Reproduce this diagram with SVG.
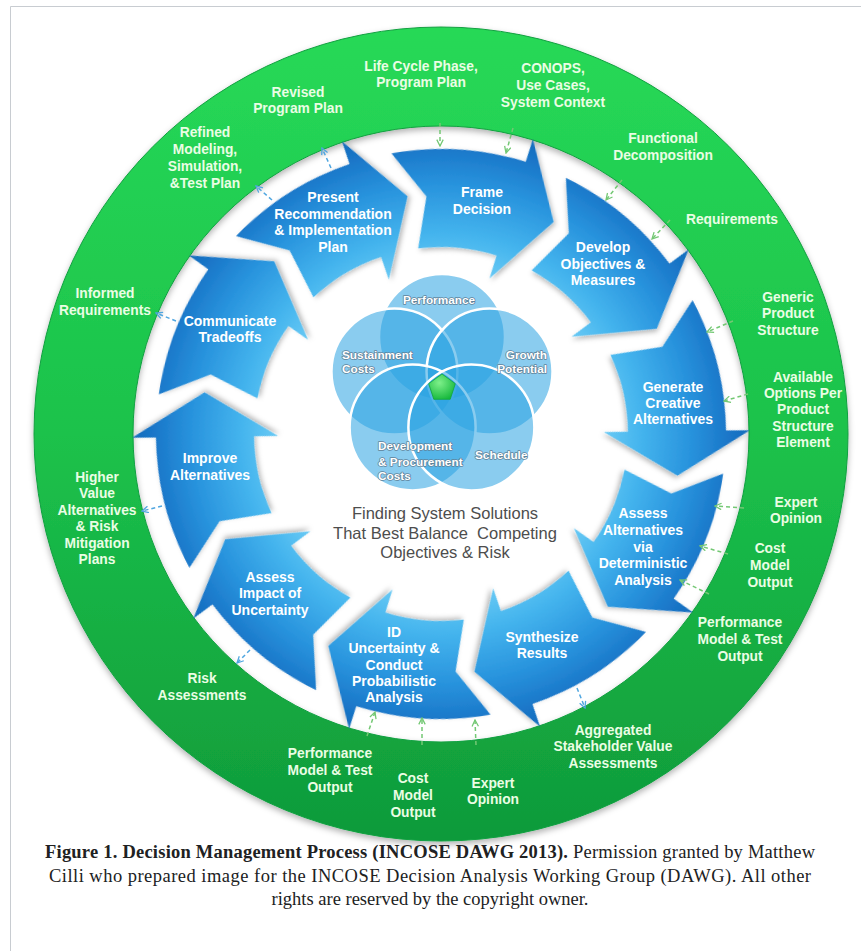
<svg xmlns="http://www.w3.org/2000/svg" width="861" height="951" viewBox="0 0 861 951">
<defs>
<style>
.ring-label{font-family:"Liberation Sans",Arial,sans-serif;font-size:13.8px;font-weight:bold;fill:#eafde4;text-anchor:middle}
.arrow-label{font-family:"Liberation Sans",Arial,sans-serif;font-size:14px;font-weight:bold;fill:#ffffff;text-anchor:middle}
.venn-label{font-family:"Liberation Sans",Arial,sans-serif;font-size:11.8px;font-weight:bold;fill:#ffffff;stroke:#5f8299;stroke-width:1.5px;paint-order:stroke;stroke-linejoin:round}
.center-text{font-family:"Liberation Sans",Arial,sans-serif;font-size:16.5px;fill:#4d4d4d;text-anchor:middle;white-space:pre}
.caption{font-family:"Liberation Serif","Times New Roman",serif;font-size:18.5px;fill:#202122;text-anchor:middle}
.in{fill:none;stroke:#74c874;stroke-width:1.5;stroke-dasharray:4 3;marker-end:url(#mg)}
.out{fill:none;stroke:#4fa6e0;stroke-width:1.5;stroke-dasharray:4 3;marker-end:url(#mb)}
.venn{fill:#2aa3e2;fill-opacity:0.55;stroke:#ffffff;stroke-width:2.5}
.arrow{fill:url(#blue);filter:url(#ash)}
</style>
<linearGradient id="green" gradientUnits="userSpaceOnUse" x1="0" y1="27" x2="0" y2="841">
<stop offset="0" stop-color="#27d957"/>
<stop offset="0.5" stop-color="#1cc24b"/>
<stop offset="1" stop-color="#0f9a3a"/>
</linearGradient>
<radialGradient id="blue" gradientUnits="userSpaceOnUse" cx="441" cy="434" r="320">
<stop offset="0.5" stop-color="#6ccbf5"/>
<stop offset="0.62" stop-color="#45b5ee"/>
<stop offset="0.78" stop-color="#2893dd"/>
<stop offset="0.9" stop-color="#1a76c8"/>
<stop offset="1" stop-color="#1266b5"/>
</radialGradient>
<radialGradient id="pent" cx="0.4" cy="0.35" r="0.7">
<stop offset="0" stop-color="#7ef08a"/>
<stop offset="1" stop-color="#16b83c"/>
</radialGradient>
<filter id="rsh" x="-10%" y="-10%" width="120%" height="125%">
<feDropShadow dx="0" dy="3" stdDeviation="3" flood-color="#000" flood-opacity="0.3"/>
</filter>
<filter id="ash" x="-20%" y="-20%" width="140%" height="140%">
<feDropShadow dx="1.5" dy="2.5" stdDeviation="2.5" flood-color="#000" flood-opacity="0.28"/>
</filter>
<marker id="mg" viewBox="0 0 10 10" refX="9" refY="5" markerWidth="8" markerHeight="8" orient="auto" markerUnits="userSpaceOnUse">
<path d="M1,1 L9,5 L1,9" fill="none" stroke="#74c874" stroke-width="1.6"/>
</marker>
<marker id="mb" viewBox="0 0 10 10" refX="9" refY="5" markerWidth="8" markerHeight="8" orient="auto" markerUnits="userSpaceOnUse">
<path d="M1,1 L9,5 L1,9" fill="none" stroke="#4fa6e0" stroke-width="1.6"/>
</marker>
<path id="arr" d="M431.05,149.17 A285,285 0 0 1 562.80,176.34 L573.05,154.64 L582.07,239.84 L510.66,286.63 L520.92,264.94 A187,187 0 0 0 444.26,247.03 L459.67,196.73 Z"/>
</defs>

<rect x="0" y="0" width="861" height="951" fill="#ffffff"/>
<path d="M10.5,951 V6.5 H861" fill="none" stroke="#c8ccd1" stroke-width="1"/>

<g id="ring">
<path d="M441,27 A407,407 0 1 1 441,841 A407,407 0 1 1 441,27 Z M441,126 A308,308 0 1 0 441,742 A308,308 0 1 0 441,126 Z" fill="url(#green)" fill-rule="evenodd" stroke="#12a040" stroke-width="1" filter="url(#rsh)"/>
</g>

<g id="ring-labels">
<text class="ring-label" x="298" y="97">Revised<tspan x="298" y="113">Program Plan</tspan></text>
<text class="ring-label" x="421" y="71">Life Cycle Phase,<tspan x="421" y="87">Program Plan</tspan></text>
<text class="ring-label" x="553" y="73">CONOPS,<tspan x="553" y="90">Use Cases,</tspan><tspan x="553" y="107">System Context</tspan></text>
<text class="ring-label" x="663" y="143">Functional<tspan x="663" y="160">Decomposition</tspan></text>
<text class="ring-label" x="732" y="224">Requirements</text>
<text class="ring-label" x="788" y="302">Generic<tspan x="788" y="318">Product</tspan><tspan x="788" y="335">Structure</tspan></text>
<text class="ring-label" x="803" y="382">Available<tspan x="803" y="398">Options Per</tspan><tspan x="803" y="414">Product</tspan><tspan x="803" y="431">Structure</tspan><tspan x="803" y="447">Element</tspan></text>
<text class="ring-label" x="796" y="507">Expert<tspan x="796" y="523">Opinion</tspan></text>
<text class="ring-label" x="770" y="553">Cost<tspan x="770" y="570">Model</tspan><tspan x="770" y="587">Output</tspan></text>
<text class="ring-label" x="740" y="627">Performance<tspan x="740" y="644">Model &amp; Test</tspan><tspan x="740" y="661">Output</tspan></text>
<text class="ring-label" x="613" y="735">Aggregated<tspan x="613" y="751">Stakeholder Value</tspan><tspan x="613" y="768">Assessments</tspan></text>
<text class="ring-label" x="493" y="788">Expert<tspan x="493" y="804">Opinion</tspan></text>
<text class="ring-label" x="413" y="783">Cost<tspan x="413" y="800">Model</tspan><tspan x="413" y="817">Output</tspan></text>
<text class="ring-label" x="330" y="758">Performance<tspan x="330" y="775">Model &amp; Test</tspan><tspan x="330" y="792">Output</tspan></text>
<text class="ring-label" x="202" y="683">Risk<tspan x="202" y="700">Assessments</tspan></text>
<text class="ring-label" x="97" y="482">Higher<tspan x="97" y="498">Value</tspan><tspan x="97" y="515">Alternatives</tspan><tspan x="97" y="531">&amp; Risk</tspan><tspan x="97" y="548">Mitigation</tspan><tspan x="97" y="564">Plans</tspan></text>
<text class="ring-label" x="105" y="298">Informed<tspan x="105" y="315">Requirements</tspan></text>
<text class="ring-label" x="205" y="137">Refined<tspan x="205" y="154">Modeling,</tspan><tspan x="205" y="171">Simulation,</tspan><tspan x="205" y="188">&amp;Test Plan</tspan></text>
</g>

<g id="frame-decision">
<use href="#arr" class="arrow" transform="rotate(352 441 434)"/>
<text class="arrow-label" x="482" y="197">Frame<tspan x="482" y="214">Decision</tspan></text>
</g>
<g id="develop-objectives">
<use href="#arr" class="arrow" transform="rotate(28 441 434)"/>
<text class="arrow-label" x="603" y="252">Develop<tspan x="603" y="269">Objectives &amp;</tspan><tspan x="603" y="285">Measures</tspan></text>
</g>
<g id="generate-alternatives">
<use href="#arr" class="arrow" transform="rotate(64 441 434)"/>
<text class="arrow-label" x="673" y="392">Generate<tspan x="673" y="408">Creative</tspan><tspan x="673" y="424">Alternatives</tspan></text>
</g>
<g id="assess-alternatives">
<use href="#arr" class="arrow" transform="rotate(100 441 434)"/>
<text class="arrow-label" x="643" y="518">Assess<tspan x="643" y="535">Alternatives</tspan><tspan x="643" y="552">via</tspan><tspan x="643" y="568">Deterministic</tspan><tspan x="643" y="585">Analysis</tspan></text>
</g>
<g id="synthesize-results">
<use href="#arr" class="arrow" transform="rotate(136 441 434)"/>
<text class="arrow-label" x="542" y="642">Synthesize<tspan x="542" y="658">Results</tspan></text>
</g>
<g id="id-uncertainty">
<use href="#arr" class="arrow" transform="rotate(172 441 434)"/>
<text class="arrow-label" x="394" y="637">ID<tspan x="394" y="653">Uncertainty &amp;</tspan><tspan x="394" y="670">Conduct</tspan><tspan x="394" y="686">Probabilistic</tspan><tspan x="394" y="702">Analysis</tspan></text>
</g>
<g id="assess-impact">
<use href="#arr" class="arrow" transform="rotate(208 441 434)"/>
<text class="arrow-label" x="270" y="582">Assess<tspan x="270" y="598">Impact of</tspan><tspan x="270" y="615">Uncertainty</tspan></text>
</g>
<g id="improve-alternatives">
<use href="#arr" class="arrow" transform="rotate(244 441 434)"/>
<text class="arrow-label" x="210" y="463">Improve<tspan x="210" y="480">Alternatives</tspan></text>
</g>
<g id="communicate-tradeoffs">
<use href="#arr" class="arrow" transform="rotate(280 441 434)"/>
<text class="arrow-label" x="230" y="326">Communicate<tspan x="230" y="342">Tradeoffs</tspan></text>
</g>
<g id="present-recommendation">
<use href="#arr" class="arrow" transform="rotate(316 441 434)"/>
<text class="arrow-label" x="333" y="202">Present<tspan x="333" y="218.7">Recommendation</tspan><tspan x="333" y="235.3">&amp; Implementation</tspan><tspan x="333" y="252">Plan</tspan></text>
</g>

<g id="venn">
<circle class="venn" cx="442" cy="337" r="63"/>
<circle class="venn" cx="394.45" cy="371.55" r="63"/>
<circle class="venn" cx="489.55" cy="371.55" r="63"/>
<circle class="venn" cx="412.61" cy="427.45" r="63"/>
<circle class="venn" cx="471.39" cy="427.45" r="63"/>
<polygon points="442,374 455.3,383.7 450.2,399.3 433.8,399.3 428.7,383.7" fill="url(#pent)" stroke="#14a838" stroke-width="0.8"/>
<text class="venn-label" x="439" y="304" text-anchor="middle">Performance</text>
<text class="venn-label" x="342" y="359">Sustainment<tspan x="342" y="373">Costs</tspan></text>
<text class="venn-label" x="547" y="359" text-anchor="end">Growth<tspan x="547" y="373">Potential</tspan></text>
<text class="venn-label" x="378" y="450">Development<tspan x="378" y="466">&amp; Procurement</tspan><tspan x="378" y="480">Costs</tspan></text>
<text class="venn-label" x="475" y="459">Schedule</text>
</g>

<g id="center-caption">
<text class="center-text" x="445" y="519">Finding System Solutions</text>
<text class="center-text" x="445" y="539">That Best Balance  Competing</text>
<text class="center-text" x="445" y="558">Objectives &amp; Risk</text>
</g>

<g id="connectors">
<line class="in" x1="440" y1="123" x2="440" y2="146"/>
<line class="in" x1="513" y1="128" x2="506" y2="153"/>
<line class="in" x1="622" y1="180" x2="606" y2="200"/>
<line class="in" x1="670" y1="220" x2="652" y2="239"/>
<line class="in" x1="733" y1="321" x2="707" y2="332"/>
<line class="in" x1="748" y1="394" x2="724" y2="401"/>
<line class="in" x1="744" y1="508" x2="715" y2="506"/>
<line class="in" x1="728" y1="554" x2="700" y2="546"/>
<line class="in" x1="709" y1="594" x2="680" y2="580"/>
<line class="in" x1="476" y1="745" x2="475" y2="720"/>
<line class="in" x1="422" y1="745" x2="422" y2="718"/>
<line class="in" x1="367" y1="736" x2="375" y2="712"/>
<line class="out" x1="577" y1="688" x2="585" y2="708"/>
<line class="out" x1="250" y1="650" x2="237" y2="663"/>
<line class="out" x1="162" y1="506" x2="142" y2="511"/>
<line class="out" x1="176" y1="321" x2="156" y2="313"/>
<line class="out" x1="272" y1="200" x2="256" y2="186"/>
<line class="out" x1="331" y1="168" x2="322" y2="148"/>
</g>

<g id="figure-caption">
<text class="caption" x="430" y="858" textLength="770"><tspan font-weight="bold">Figure 1. Decision Management Process (INCOSE DAWG 2013).</tspan> Permission granted by Matthew</text>
<text class="caption" x="430" y="882" textLength="762">Cilli who prepared image for the INCOSE Decision Analysis Working Group (DAWG). All other</text>
<text class="caption" x="430" y="905">rights are reserved by the copyright owner.</text>
</g>
</svg>
